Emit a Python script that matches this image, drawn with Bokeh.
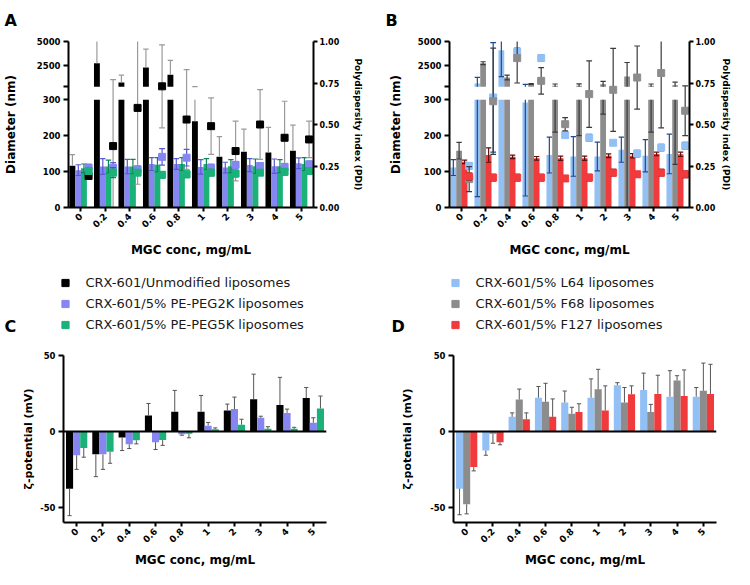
import math
import numpy as np
from bokeh.plotting import figure
from bokeh.models import Range1d, LinearAxis, FixedTicker, Span, Label, Legend, LegendItem
from bokeh.layouts import column, row
from bokeh.embed import file_html
from bokeh.resources import INLINE

# ---------------------------------------------------------------- data
conc = ["0", "0.2", "0.4", "0.6", "0.8", "1", "2", "3", "4", "5"]

# Panel A: diameter (nm) mean / SD
a_unmod_d = [116, 2750, 750, 2300, 1550, 240, 141, 155, 153, 158]
a_unmod_d_sd = [31, 2600, 750, 1900, 1500, 85, 56, 63, 70, 71]
a_peg2k_d = [104, 114, 114, 121, 121, 113, 111, 118, 115, 123]
a_peg2k_d_sd = [15, 22, 20, 18, 15, 20, 15, 18, 20, 15]
a_peg5k_d = [109, 114, 114, 119, 121, 121, 115, 115, 115, 121]
a_peg5k_d_sd = [12, 18, 20, 20, 18, 15, 18, 20, 18, 18]
# Panel A: PDI mean / SD
a_unmod_pdi = [0.19, 0.37, 0.60, 0.73, 0.53, 0.49, 0.34, 0.50, 0.42, 0.41]
a_unmod_pdi_sd = [0.02, 0.40, 0.46, 0.25, 0.30, 0.17, 0.18, 0.21, 0.22, 0.11]
a_peg2k_pdi = [0.24, 0.24, 0.23, 0.305, 0.30, 0.24, 0.257, 0.25, 0.245, 0.26]
a_peg2k_pdi_sd = [0.02, 0.03, 0.02, 0.05, 0.05, 0.02, 0.02, 0.02, 0.02, 0.02]
a_peg5k_pdi = [0.22, 0.21, 0.21, 0.197, 0.20, 0.21, 0.205, 0.21, 0.215, 0.22]
a_peg5k_pdi_sd = [0.02, 0.03, 0.015, 0.02, 0.02, 0.02, 0.02, 0.015, 0.02, 0.02]

# Panel B: diameter (nm) mean / SD
b_l64_d = [111, 650, 4100, 292, 146, 142, 142, 161, 144, 149]
b_l64_d_sd = [22, 620, 2750, 260, 50, 55, 40, 35, 45, 55]
b_f68_d = [158, 2750, 1265, 580, 400, 400, 560, 1370, 400, 450]
b_f68_d_sd = [23, 150, 250, 40, 190, 200, 300, 1450, 190, 330]
b_f127_d = [127, 146, 141, 137, 137, 137, 144, 144, 149, 148]
b_f127_d_sd = [5, 20, 5, 5, 6, 6, 5, 6, 5, 6]
# Panel B: PDI mean / SD
b_l64_pdi = [0.251, 0.663, 0.94, 0.90, 0.436, 0.42, 0.39, 0.325, 0.361, 0.372]
b_l64_pdi_sd = [0.02, 0.33, 0.02, 0.02, 0.01, 0.02, 0.01, 0.02, 0.02, 0.02]
b_f68_pdi = [0.171, 0.64, 0.90, 0.763, 0.502, 0.683, 0.709, 0.783, 0.81, 0.583]
b_f68_pdi_sd = [0.075, 0.32, 0.15, 0.08, 0.04, 0.20, 0.25, 0.19, 0.33, 0.15]
b_f127_pdi = [0.187, 0.18, 0.18, 0.18, 0.175, 0.18, 0.21, 0.20, 0.21, 0.20]
b_f127_pdi_sd = [0.02, 0.02, 0.02, 0.02, 0.015, 0.02, 0.02, 0.015, 0.02, 0.02]

# Panel C: zeta potential (mV) mean / SD
c_unmod = [-37.7, -15.1, -4.0, 10.5, 13.0, 13.0, 13.8, 21.2, 17.4, 22.0]
c_unmod_sd = [17.8, 14.7, 8.6, 7.9, 14.0, 10.7, 4.2, 16.5, 18.2, 6.9]
c_peg2k = [-15.7, -15.1, -8.4, -7.1, -1.9, 3.8, 14.7, 9.0, 12.2, 5.7]
c_peg2k_sd = [9.3, 9.9, 2.9, 4.8, 0.6, 2.1, 7.9, 1.0, 2.5, 3.3]
c_peg5k = [-10.9, -13.4, -5.9, -5.7, -1.5, 1.5, 4.4, 1.7, 1.7, 15.1]
c_peg5k_sd = [6.1, 7.6, 2.3, 3.5, 2.7, 0.8, 3.6, 1.4, 1.0, 8.2]

# Panel D: zeta potential (mV) mean / SD
d_l64 = [-37.7, -12.6, 9.6, 22.2, 19.1, 22.2, 30.4, 27.3, 22.9, 22.9]
d_l64_sd = [17.2, 3.1, 2.6, 7.4, 7.5, 12.4, 1.7, 11.1, 17.1, 6.0]
d_f68 = [-48.0, -1.5, 21.0, 19.5, 11.7, 27.7, 19.1, 12.8, 33.5, 26.8]
d_f68_sd = [6.3, 6.3, 6.9, 12.2, 4.2, 13.2, 9.8, 5.0, 3.2, 18.2]
d_f127 = [-23.5, -7.1, 8.0, 9.6, 12.8, 13.8, 24.5, 24.7, 23.3, 24.7]
d_f127_sd = [2.5, 1.7, 4.2, 11.8, 5.4, 16.2, 5.5, 12.3, 17.2, 19.5]

names_left = ["CRX-601/Unmodified liposomes", "CRX-601/5% PE-PEG2K liposomes",
              "CRX-601/5% PE-PEG5K liposomes"]
names_right = ["CRX-601/5% L64 liposomes", "CRX-601/5% F68 liposomes",
               "CRX-601/5% F127 liposomes"]

# ---------------------------------------------------------------- style
FONT = "DejaVu Sans"
C_BLACK, C_PURPLE, C_GREEN = "#000000", "#8686f2", "#1bb27a"
C_BLUE, C_GREY, C_RED = "#92c0f4", "#8c8c8c", "#f03a3c"
E_BLACK, E_PURPLE, E_GREEN = "#9a9a9a", "#5a5ad0", "#0f8455"
E_BLUE, E_GREY, E_RED = "#24488e", "#3a3a3a", "#5a1010"

# broken diameter axis: 0-300 linear, gap, 300-5000 compressed
LOW_TOP, UP_BOT, UP_TOP, D_MAX = 300.0, 336.0, 462.0, 5000.0


def tf(v):
    v = np.asarray(v, dtype=float)
    return np.where(v <= LOW_TOP, v,
                    UP_BOT + (v - LOW_TOP) * (UP_TOP - UP_BOT) / (D_MAX - LOW_TOP))


def style_axis(ax, label_size, tick_size="8.5px"):
    ax.axis_line_width = 2
    ax.axis_line_color = "black"
    ax.major_tick_line_width = 2
    ax.major_tick_line_color = "black"
    ax.major_tick_out = 5
    ax.major_tick_in = 0
    ax.minor_tick_line_color = None
    ax.major_label_text_font = FONT
    ax.major_label_text_font_style = "bold"
    ax.major_label_text_font_size = tick_size
    ax.major_label_text_color = "black"
    ax.major_label_standoff = 3
    ax.axis_label_text_font = FONT
    ax.axis_label_text_font_style = "bold"
    ax.axis_label_text_font_size = label_size
    ax.axis_label_text_color = "black"


def style_xaxis(p, standoff):
    ax = p.xaxis[0]
    style_axis(ax, "12px", "9px")
    ax.ticker = FixedTicker(ticks=list(range(len(conc))))
    ax.major_label_overrides = {i: c for i, c in enumerate(conc)}
    ax.major_label_orientation = math.pi / 4
    ax.major_tick_out = 4
    ax.axis_label = "MGC conc, mg/mL"
    ax.axis_label_standoff = standoff


def diameter_bars(p, xs, vals, width, color):
    vals = np.asarray(vals, dtype=float)
    p.vbar(x=xs, width=width, bottom=0, top=np.minimum(vals, LOW_TOP),
           fill_color=color, line_color=None)
    m = vals > LOW_TOP
    p.vbar(x=xs[m], width=width, bottom=UP_BOT, top=tf(vals[m]),
           fill_color=color, line_color=None)


def diameter_err(p, xs, vals, sds, color, cap, two_sided=True):
    vals = np.asarray(vals, dtype=float)
    sds = np.asarray(sds, dtype=float)
    hi = vals + sds
    lo = vals - sds if two_sided else vals.copy()
    m1 = lo < LOW_TOP
    p.segment(x0=xs[m1], y0=lo[m1], x1=xs[m1], y1=np.minimum(hi[m1], LOW_TOP),
              line_color=color, line_width=1.2)
    m2 = hi > LOW_TOP
    y0 = np.where(lo[m2] > LOW_TOP, tf(lo[m2]), UP_BOT)
    p.segment(x0=xs[m2], y0=y0, x1=xs[m2], y1=tf(hi[m2]), line_color=color, line_width=1.2)
    p.segment(x0=xs - cap / 2, y0=tf(hi), x1=xs + cap / 2, y1=tf(hi),
              line_color=color, line_width=1.2)
    if two_sided:
        p.segment(x0=xs - cap / 2, y0=tf(lo), x1=xs + cap / 2, y1=tf(lo),
                  line_color=color, line_width=1.2)


def pdi_points(p, xs, vals, sds, color, ecolor, cap):
    vals = np.asarray(vals, dtype=float)
    sds = np.asarray(sds, dtype=float)
    lo, hi = vals - sds, vals + sds
    p.segment(x0=xs, y0=lo, x1=xs, y1=hi, line_color=ecolor, line_width=1.2, y_range_name="pdi")
    for yy in (lo, hi):
        p.segment(x0=xs - cap / 2, y0=yy, x1=xs + cap / 2, y1=yy,
                  line_color=ecolor, line_width=1.2, y_range_name="pdi")
    p.scatter(x=xs, y=vals, marker="square", size=7, fill_color=color, line_color=color,
              y_range_name="pdi")


def diameter_fig(mbl, mbr, letter, series, pdis, two_sided, pdi_label_standoff, dl_standoff):
    p = figure(width=367, height=262, x_range=Range1d(-0.5, 9.5), y_range=Range1d(0, UP_TOP),
               min_border_left=mbl, min_border_right=mbr, min_border_top=41,
               min_border_bottom=55, output_backend="svg", toolbar_location=None,
               title=letter)
    p.title.text_font = FONT
    p.title.text_font_style = "bold"
    p.title.text_font_size = "16px"
    p.title.text_color = "black"
    p.title.align = "left"
    p.title.vertical_align = "top"
    p.title.offset = -64
    p.title.standoff = 20
    p.extra_y_ranges = {"pdi": Range1d(0, 1)}
    p.outline_line_color = None
    p.grid.visible = False
    p.background_fill_color = "white"
    base = np.arange(len(conc), dtype=float)
    offsets = [-0.34, -0.1, 0.13]
    for (vals, sds, col, ecol), off, ts in zip(series, offsets, two_sided):
        xs = base + off
        diameter_bars(p, xs, vals, 0.24, col)
        diameter_err(p, xs, vals, sds, ecol, 0.22, ts)
    for vals, sds, col, ecol in pdis:
        pdi_points(p, base + 0.32, vals, sds, col, ecol, 0.24)

    style_xaxis(p, 9)
    ya = p.yaxis[0]
    style_axis(ya, "12px")
    t2500 = float(tf(2500.0))
    ya.ticker = FixedTicker(ticks=[0, 100, 200, 300, UP_BOT, t2500, UP_TOP])
    ya.major_label_overrides = {0: "0", 100: "100", 200: "200", 300: "300", UP_BOT: "",
                                t2500: "2500", UP_TOP: "5000"}
    ya.axis_label = "Diameter (nm)"
    ya.axis_label_standoff = dl_standoff

    ra = LinearAxis(y_range_name="pdi", axis_label="Polydispersity index (PDI)")
    style_axis(ra, "9px", "8px")
    ra.major_tick_out = 4
    ra.major_label_standoff = 2
    ra.ticker = FixedTicker(ticks=[0, 0.25, 0.5, 0.75, 1.0])
    ra.major_label_overrides = {0: "0.00", 0.25: "0.25", 0.5: "0.50", 0.75: "0.75", 1.0: "1.00"}
    ra.axis_label_standoff = pdi_label_standoff
    p.add_layout(ra, "right")
    return p


def zeta_fig(mbl, mbr, series, label_standoff):
    p = figure(width=367, height=231, x_range=Range1d(-0.5, 9.5), y_range=Range1d(-60, 50),
               min_border_left=mbl, min_border_right=mbr, min_border_top=17,
               min_border_bottom=45, output_backend="svg", toolbar_location=None)
    p.outline_line_color = None
    p.grid.visible = False
    base = np.arange(len(conc), dtype=float)
    offsets = [-0.27, 0.0, 0.27]
    for (vals, sds, col), off in zip(series, offsets):
        vals = np.asarray(vals, dtype=float)
        sds = np.asarray(sds, dtype=float)
        xs = base + off
        p.vbar(x=xs, width=0.27, bottom=0, top=vals, fill_color=col, line_color=None)
        end = vals + np.sign(vals) * sds
        p.segment(x0=xs, y0=vals, x1=xs, y1=end, line_color="#555555", line_width=1)
        p.segment(x0=xs - 0.08, y0=end, x1=xs + 0.08, y1=end, line_color="#555555", line_width=1)
    p.add_layout(Span(location=0, dimension="width", line_color="black", line_width=2))
    style_xaxis(p, 4)
    ya = p.yaxis[0]
    style_axis(ya, "11px")
    ya.ticker = FixedTicker(ticks=[-50, 0, 50])
    ya.major_label_overrides = {-50: "-50", 0: "0", 50: "50"}
    ya.axis_label = "ζ-potential (mV)"
    ya.axis_label_standoff = label_standoff
    return p


pA = diameter_fig(
    63, 54, "A",
    [(a_unmod_d, a_unmod_d_sd, C_BLACK, E_BLACK),
     (a_peg2k_d, a_peg2k_d_sd, C_PURPLE, E_PURPLE),
     (a_peg5k_d, a_peg5k_d_sd, C_GREEN, E_GREEN)],
    [(a_unmod_pdi, a_unmod_pdi_sd, C_BLACK, E_BLACK),
     (a_peg2k_pdi, a_peg2k_pdi_sd, C_PURPLE, E_PURPLE),
     (a_peg5k_pdi, a_peg5k_pdi_sd, C_GREEN, E_GREEN)],
    [False, True, True], 11, 16)

pB = diameter_fig(
    82, 39, "B",
    [(b_l64_d, b_l64_d_sd, C_BLUE, E_BLUE),
     (b_f68_d, b_f68_d_sd, C_GREY, E_GREY),
     (b_f127_d, b_f127_d_sd, C_RED, E_RED)],
    [(b_l64_pdi, b_l64_pdi_sd, C_BLUE, E_BLUE),
     (b_f68_pdi, b_f68_pdi_sd, C_GREY, E_GREY),
     (b_f127_pdi, b_f127_pdi_sd, C_RED, "#2a0000")],
    [True, True, True], 3, 12)

pC = zeta_fig(63, 41, [(c_unmod, c_unmod_sd, C_BLACK), (c_peg2k, c_peg2k_sd, C_PURPLE),
                       (c_peg5k, c_peg5k_sd, C_GREEN)], 2)
pD = zeta_fig(86, 18, [(d_l64, d_l64_sd, C_BLUE), (d_f68, d_f68_sd, C_GREY),
                       (d_f127, d_f127_sd, C_RED)], 13)

# ---------------------------------------------------------------- legend strip
lg = figure(width=734, height=76, x_range=Range1d(0, 1), y_range=Range1d(0, 1),
            x_axis_type=None, y_axis_type=None, min_border=0,
            output_backend="svg", toolbar_location=None)
lg.grid.visible = False
lg.outline_line_color = None


def make_legend(names, colors, x):
    items = []
    for nm, col in zip(names, colors):
        r = lg.scatter(x=[np.nan], y=[np.nan], marker="square", size=7,
                       fill_color=col, line_color=col)
        items.append(LegendItem(label=nm, renderers=[r]))
    leg = Legend(items=items, location=(x, 3.5), glyph_width=18, glyph_height=21,
                 label_height=21, label_standoff=12, spacing=0, padding=0, margin=0,
                 border_line_color=None, background_fill_alpha=0,
                 label_text_font=FONT, label_text_font_size="13px",
                 label_text_color="#1a1a1a")
    lg.add_layout(leg)


make_legend(names_left, [C_BLACK, C_PURPLE, C_GREEN], 55.5)
make_legend(names_right, [C_BLUE, C_GREY, C_RED], 445.5)
for letter, lx in (("C", 4), ("D", 391)):
    lg.add_layout(Label(x=lx, y=3, x_units="screen", y_units="screen", text=letter,
                        text_font=FONT, text_font_style="bold", text_font_size="16px",
                        text_color="black"))

layout = column(row(pA, pB), lg, row(pC, pD))
open("out.html", "w").write(file_html(layout, INLINE))
